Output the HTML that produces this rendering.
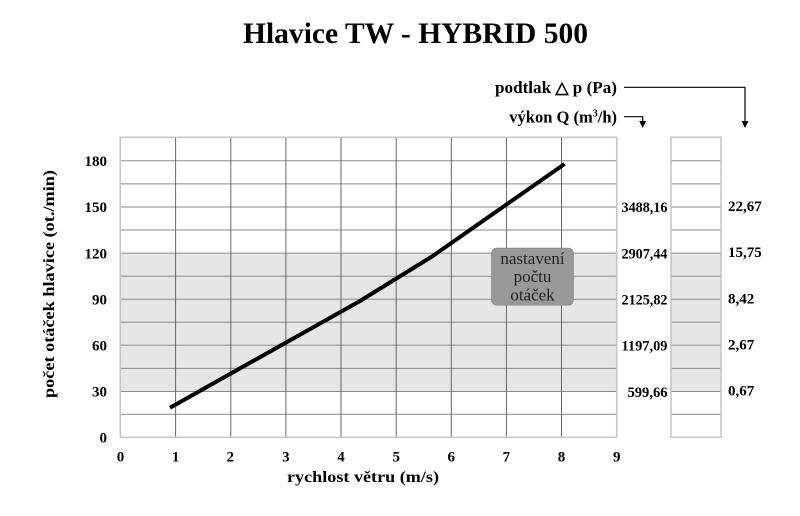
<!DOCTYPE html>
<html><head><meta charset="utf-8"><style>
html,body{margin:0;padding:0;background:#fff;}
svg{display:block;}
svg text{font-family:"Liberation Serif","Times New Roman",serif;fill:#000;}
.b{font-weight:bold;}
</style></head><body>
<svg width="800" height="516" viewBox="0 0 800 516" xmlns="http://www.w3.org/2000/svg" font-family="Liberation Serif, serif">
<!-- title -->
<text x="415.5" y="43" class="b" font-size="30" text-anchor="middle" textLength="345" lengthAdjust="spacingAndGlyphs">Hlavice TW - HYBRID 500</text>

<!-- main plot shading -->
<rect x="120" y="253.1" width="496.7" height="138.4" fill="#e6e6e6"/>
<!-- right box shading -->
<rect x="671" y="253.1" width="50" height="138.4" fill="#e6e6e6"/>

<!-- horizontal grid lines main -->
<g stroke="#8a8a8a" stroke-width="1">
<line x1="120" x2="616.7" y1="414.2" y2="414.2"/>
<line x1="120" x2="616.7" y1="391.5" y2="391.5"/>
<line x1="120" x2="616.7" y1="368.4" y2="368.4"/>
<line x1="120" x2="616.7" y1="345.3" y2="345.3"/>
<line x1="120" x2="616.7" y1="322.3" y2="322.3"/>
<line x1="120" x2="616.7" y1="299.2" y2="299.2"/>
<line x1="120" x2="616.7" y1="276.2" y2="276.2"/>
<line x1="120" x2="616.7" y1="253.1" y2="253.1"/>
<line x1="120" x2="616.7" y1="230.0" y2="230.0"/>
<line x1="120" x2="616.7" y1="207.0" y2="207.0"/>
<line x1="120" x2="616.7" y1="183.9" y2="183.9"/>
<line x1="120" x2="616.7" y1="160.8" y2="160.8"/>
</g>
<!-- horizontal grid lines right box -->
<g stroke="#8a8a8a" stroke-width="1">
<line x1="671" x2="721" y1="414.2" y2="414.2"/>
<line x1="671" x2="721" y1="391.5" y2="391.5"/>
<line x1="671" x2="721" y1="368.4" y2="368.4"/>
<line x1="671" x2="721" y1="345.3" y2="345.3"/>
<line x1="671" x2="721" y1="322.3" y2="322.3"/>
<line x1="671" x2="721" y1="299.2" y2="299.2"/>
<line x1="671" x2="721" y1="276.2" y2="276.2"/>
<line x1="671" x2="721" y1="253.1" y2="253.1"/>
<line x1="671" x2="721" y1="230.0" y2="230.0"/>
<line x1="671" x2="721" y1="207.0" y2="207.0"/>
<line x1="671" x2="721" y1="183.9" y2="183.9"/>
<line x1="671" x2="721" y1="160.8" y2="160.8"/>
</g>
<!-- vertical grid lines -->
<g stroke="#666" stroke-width="1">
<line x1="175.6" x2="175.6" y1="137.3" y2="437.3"/>
<line x1="230.8" x2="230.8" y1="137.3" y2="437.3"/>
<line x1="285.9" x2="285.9" y1="137.3" y2="437.3"/>
<line x1="341.0" x2="341.0" y1="137.3" y2="437.3"/>
<line x1="396.2" x2="396.2" y1="137.3" y2="437.3"/>
<line x1="451.3" x2="451.3" y1="137.3" y2="437.3"/>
<line x1="506.4" x2="506.4" y1="137.3" y2="437.3"/>
<line x1="561.5" x2="561.5" y1="137.3" y2="437.3"/>
</g>
<!-- borders -->
<rect x="120.3" y="137.3" width="496.4" height="300" fill="none" stroke="#c4c4c4" stroke-width="1.5"/>
<rect x="671" y="137.3" width="50" height="300" fill="none" stroke="#c4c4c4" stroke-width="1.5"/>

<!-- curve -->
<polyline points="170,407.7 360,301 432,256.5 564.5,164" fill="none" stroke="#000" stroke-width="4" stroke-linecap="butt" stroke-linejoin="round"/>

<!-- nastaveni box -->
<rect x="491.7" y="248.3" width="81.6" height="56.7" rx="5" ry="5" fill="#999" stroke="#8a8a8a" stroke-width="1"/>
<text x="532.5" y="264" font-size="17" text-anchor="middle" style="fill:#222">nastavení</text>
<text x="532.5" y="282" font-size="17" text-anchor="middle" style="fill:#222">počtu</text>
<text x="532.5" y="300.5" font-size="17" text-anchor="middle" style="fill:#222">otáček</text>

<!-- y tick labels -->
<text x="107" y="166" class="b" font-size="15" text-anchor="end">180</text>
<text x="107" y="212.2" class="b" font-size="15" text-anchor="end">150</text>
<text x="107" y="258.3" class="b" font-size="15" text-anchor="end">120</text>
<text x="107" y="304.4" class="b" font-size="15" text-anchor="end">90</text>
<text x="107" y="350.5" class="b" font-size="15" text-anchor="end">60</text>
<text x="107" y="396.6" class="b" font-size="15" text-anchor="end">30</text>
<text x="107" y="442.7" class="b" font-size="15" text-anchor="end">0</text>

<!-- x tick labels -->
<text x="120.5" y="461.5" class="b" font-size="15" text-anchor="middle">0</text>
<text x="175.6" y="461.5" class="b" font-size="15" text-anchor="middle">1</text>
<text x="230.3" y="461.5" class="b" font-size="15" text-anchor="middle">2</text>
<text x="285.9" y="461.5" class="b" font-size="15" text-anchor="middle">3</text>
<text x="341.0" y="461.5" class="b" font-size="15" text-anchor="middle">4</text>
<text x="396.2" y="461.5" class="b" font-size="15" text-anchor="middle">5</text>
<text x="451.3" y="461.5" class="b" font-size="15" text-anchor="middle">6</text>
<text x="506.4" y="461.5" class="b" font-size="15" text-anchor="middle">7</text>
<text x="561.5" y="461.5" class="b" font-size="15" text-anchor="middle">8</text>
<text x="616.7" y="461.5" class="b" font-size="15" text-anchor="middle">9</text>

<!-- axis titles -->
<text x="363" y="482" class="b" font-size="16" text-anchor="middle" textLength="152" lengthAdjust="spacingAndGlyphs">rychlost větru (m/s)</text>
<text transform="translate(54,284) rotate(-90)" class="b" font-size="16" text-anchor="middle" textLength="228" lengthAdjust="spacingAndGlyphs">počet otáček hlavice (ot./min)</text>

<!-- Q labels -->
<text x="667.5" y="212.2" class="b" font-size="15" text-anchor="end" textLength="46" lengthAdjust="spacingAndGlyphs">3488,16</text>
<text x="667.5" y="258.3" class="b" font-size="15" text-anchor="end" textLength="46" lengthAdjust="spacingAndGlyphs">2907,44</text>
<text x="667.5" y="304.4" class="b" font-size="15" text-anchor="end" textLength="46" lengthAdjust="spacingAndGlyphs">2125,82</text>
<text x="667.5" y="350.5" class="b" font-size="15" text-anchor="end" textLength="46" lengthAdjust="spacingAndGlyphs">1197,09</text>
<text x="667.5" y="397" class="b" font-size="15" text-anchor="end" textLength="40" lengthAdjust="spacingAndGlyphs">599,66</text>

<!-- Pa labels -->
<text x="728" y="211" class="b" font-size="15">22,67</text>
<text x="728" y="257.2" class="b" font-size="15">15,75</text>
<text x="728" y="303.3" class="b" font-size="15">8,42</text>
<text x="728" y="349.4" class="b" font-size="15">2,67</text>
<text x="728" y="395.5" class="b" font-size="15">0,67</text>

<!-- annotations -->
<text x="617" y="93" class="b" font-size="16.5" text-anchor="end" textLength="122" lengthAdjust="spacingAndGlyphs">podtlak △ p (Pa)</text>
<text x="617" y="122.5" class="b" font-size="16.5" text-anchor="end">výkon Q (m<tspan font-size="10" dy="-6">3</tspan><tspan dy="6">/h)</tspan></text>
<g stroke="#000" stroke-width="1.2" fill="none">
<polyline points="624,87.3 745,87.3 745,122"/>
<polyline points="624,116.7 642.7,116.7 642.7,122"/>
</g>
<polygon points="741.5,121 748.5,121 745,128" fill="#000"/>
<polygon points="639.2,121 646.2,121 642.7,128" fill="#000"/>
</svg>
</body></html>
